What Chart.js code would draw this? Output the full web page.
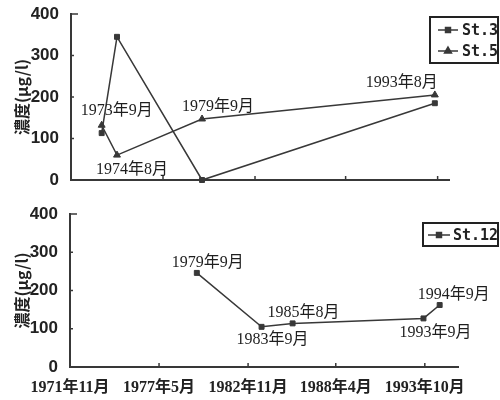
<!DOCTYPE html>
<html>
<head>
<meta charset="utf-8">
<script src="https://cdn.jsdelivr.net/npm/chart.js@4/dist/chart.umd.min.js"></script>
<style>
  html, body { margin: 0; background: #fff; }
  #wrap { position: relative; width: 500px; height: 400px; }
  #c1 { position: absolute; left: 0; top: 0; }
  #c2 { position: absolute; left: 0; top: 200px; }
</style>
</head>
<body>
<div id="wrap">
  <canvas id="c1" width="500" height="195"></canvas>
  <canvas id="c2" width="500" height="200"></canvas>
</div>
<script>
// data
var topDates = ['1973年9月', '1974年8月', '1979年9月', '1993年8月'];
var st3Values = [113, 345, 0, 185];
var st5Values = [132, 60, 147, 205];
var st12Dates = ['1979年9月', '1983年9月', '1985年8月', '1993年9月', '1994年9月'];
var st12Values = [246, 105, 114, 127, 162];
var tickDates = ['1971年11月', '1977年5月', '1982年11月', '1988年4月', '1993年10月'];
var yTicks = [0, 100, 200, 300, 400];

// where the date notes sit relative to their point (px)
var topNoteOffsets = [[15, -14], [15, 15], [16, -12], [-33, -12]];
var st12NoteOffsets = [[11, -10], [11, 13], [11, -11], [12, 14], [14, -10]];

var ink = '#383838';
var numFont = { family: '"Liberation Sans Narrow", "Liberation Sans", sans-serif', size: 17, weight: 'bold' };
var dateFont = '"Liberation Serif", "Noto Sans CJK SC", serif';

function toYear(s) {
    var m = s.match(/(\d+)年(\d+)月/);
    return +m[1] + (m[2] - 1) / 12;
}

function points(dates, values) {
    return dates.map(function (d, i) {
        return { x: toYear(d), y: values[i] };
    });
}

// small inward tick marks on both axes
var innerTicks = {
    id: 'innerTicks',
    afterDraw: function (chart) {
        var ctx = chart.ctx, a = chart.chartArea;
        var xs = chart.scales.x, ys = chart.scales.y;
        ctx.save();
        ctx.strokeStyle = ink;
        ctx.lineWidth = 1.5;
        xs.ticks.forEach(function (t) {
            var px = xs.getPixelForValue(t.value);
            ctx.beginPath(); ctx.moveTo(px, a.bottom); ctx.lineTo(px, a.bottom - 4); ctx.stroke();
        });
        ys.ticks.forEach(function (t) {
            var py = ys.getPixelForValue(t.value);
            var len = t.value === ys.max ? 7 : 3;
            ctx.beginPath(); ctx.moveTo(a.left, py); ctx.lineTo(a.left + len, py); ctx.stroke();
        });
        ctx.restore();
    }
};

// date notes next to the points
var pointNotes = {
    id: 'pointNotes',
    afterDatasetsDraw: function (chart, args, opts) {
        var meta = chart.getDatasetMeta(opts.datasetIndex);
        var ctx = chart.ctx;
        ctx.save();
        ctx.font = '16px ' + dateFont;
        ctx.fillStyle = '#1e1e1e';
        ctx.textAlign = 'center';
        ctx.textBaseline = 'middle';
        meta.data.forEach(function (el, i) {
            var off = opts.offsets[i];
            ctx.fillText(opts.labels[i], el.x + off[0], el.y + off[1]);
        });
        ctx.restore();
    }
};

// boxed legend like the original
var boxLegend = {
    id: 'boxLegend',
    afterDraw: function (chart, args, o) {
        var ctx = chart.ctx;
        ctx.save();
        ctx.fillStyle = '#fff';
        ctx.fillRect(o.x, o.y, o.w, o.h);
        ctx.strokeStyle = '#222';
        ctx.lineWidth = 2;
        ctx.strokeRect(o.x, o.y, o.w, o.h);
        ctx.font = 'bold 15px "DejaVu Sans Mono", monospace';
        ctx.textBaseline = 'middle';
        chart.data.datasets.forEach(function (ds, i) {
            var cy = o.y + o.firstRow + i * o.rowH;
            ctx.strokeStyle = ink;
            ctx.lineWidth = 1.5;
            ctx.beginPath(); ctx.moveTo(o.lineX0, cy); ctx.lineTo(o.lineX1, cy); ctx.stroke();
            ctx.fillStyle = ink;
            Chart.helpers.drawPoint(ctx, {
                pointStyle: ds.pointStyle, radius: ds.pointRadius, borderWidth: 1, rotation: 0
            }, (o.lineX0 + o.lineX1) / 2, cy);
            ctx.fillStyle = '#222';
            ctx.fillText(ds.label, o.textX, cy + 1);
        });
        ctx.restore();
    }
};

function makeOptions(left, xMax, padRight, xHeight, showXLabels, legendBox, notes) {
    return {
        responsive: false,
        animation: false,
        layout: { padding: { left: 0, right: padRight, top: 14, bottom: 0 } },
        plugins: {
            legend: { display: false },
            tooltip: { enabled: false },
            boxLegend: legendBox,
            pointNotes: notes
        },
        scales: {
            x: {
                type: 'linear',
                min: toYear(tickDates[0]),
                max: xMax,
                afterBuildTicks: function (s) {
                    s.ticks = tickDates.map(function (d) { return { value: toYear(d) }; });
                },
                afterFit: function (s) {
                    s.height = xHeight;
                    s.paddingLeft = 0;
                    s.paddingRight = 0;
                },
                ticks: {
                    display: showXLabels,
                    autoSkip: false,
                    maxRotation: 0,
                    padding: 11,
                    color: '#222',
                    font: { family: dateFont, size: 16, weight: 'bold' },
                    callback: function (v) {
                        var d = tickDates.find(function (t) { return Math.abs(toYear(t) - v) < 1e-6; });
                        return d || '';
                    }
                },
                grid: { display: false, drawTicks: false },
                border: { color: ink, width: 2 }
            },
            y: {
                min: 0,
                max: 400,
                afterBuildTicks: function (s) {
                    s.ticks = yTicks.map(function (v) { return { value: v }; });
                },
                afterFit: function (s) {
                    s.width = left;
                    s.paddingTop = 0;
                    s.paddingBottom = 0;
                },
                ticks: { padding: 12, color: '#222', font: numFont },
                grid: { display: false, drawTicks: false },
                border: { color: ink, width: 2 },
                title: {
                    display: true,
                    text: '濃度(μg/l)',
                    color: '#222',
                    padding: { top: 12, bottom: 0 },
                    font: { family: '"Noto Sans CJK SC", sans-serif', size: 16, weight: 'bold' }
                }
            }
        }
    };
}

function series(label, data, style, radius) {
    return {
        label: label,
        data: data,
        borderColor: ink,
        borderWidth: 1.5,
        backgroundColor: ink,
        pointStyle: style,
        pointRadius: radius,
        pointBackgroundColor: ink,
        pointBorderColor: ink,
        pointBorderWidth: 1,
        tension: 0,
        clip: false
    };
}

new Chart(document.getElementById('c1'), {
    type: 'line',
    data: {
        datasets: [
            series('St.3', points(topDates, st3Values), 'rect', 3.5),
            series('St.5', points(topDates, st5Values), 'triangle', 4)
        ]
    },
    options: makeOptions(71, 1994.43, 51, 15, false,
        { x: 430, y: 17, w: 68, h: 46, firstRow: 13, rowH: 21, lineX0: 438, lineX1: 458, textX: 462 },
        { datasetIndex: 1, labels: topDates, offsets: topNoteOffsets }),
    plugins: [innerTicks, pointNotes, boxLegend]
});

new Chart(document.getElementById('c2'), {
    type: 'line',
    data: {
        datasets: [
            series('St.12', points(st12Dates, st12Values), 'rect', 3.5)
        ]
    },
    options: makeOptions(70, 1995.8, 42, 33, true,
        { x: 423, y: 23, w: 75, h: 23, firstRow: 12, rowH: 21, lineX0: 428, lineX1: 450, textX: 453 },
        { datasetIndex: 0, labels: st12Dates, offsets: st12NoteOffsets }),
    plugins: [innerTicks, pointNotes, boxLegend]
});
</script>
</body>
</html>
